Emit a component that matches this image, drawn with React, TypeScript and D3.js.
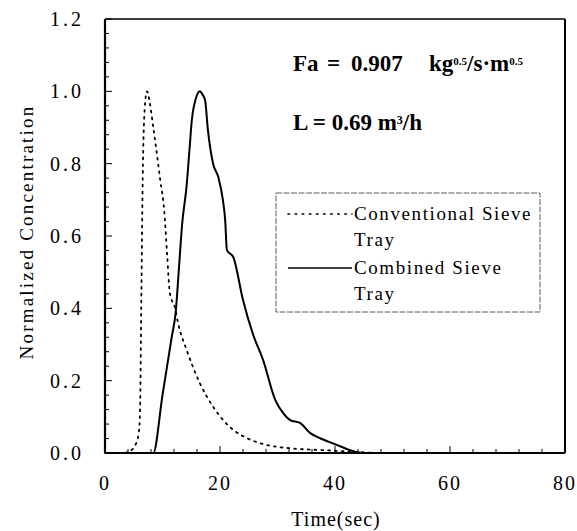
import React from "react";
import * as d3 from "d3";

const convTime = [0, 3, 4.3, 5.5, 5.9, 6.1, 6.3, 6.6, 6.9, 7.3, 7.8, 8.4, 9.0, 9.6, 10.3, 10.8, 11.3, 12.2, 12.7, 14.2, 16.5, 18.8, 22.3, 24.7, 28.2, 32.2, 37.9, 43.6, 47];
const convValue = [0, 0, 0.005, 0.03, 0.06, 0.12, 0.4, 0.8, 0.95, 1.0, 0.967, 0.9, 0.83, 0.755, 0.67, 0.55, 0.44, 0.4, 0.36, 0.285, 0.193, 0.128, 0.064, 0.041, 0.022, 0.013, 0.008, 0.003, 0];

const combTime = [0, 8.4, 10, 11.6, 12.3, 12.9, 13.4, 14.2, 14.7, 15.1, 15.8, 16.5, 17.0, 17.4, 17.9, 18.8, 19.7, 20.5, 20.9, 21.2, 22.3, 24.0, 25.7, 27.5, 29.6, 31.0, 32.2, 33.9, 35.7, 37.5, 39.1, 41, 42.6, 44.9, 80];
const combValue = [0, 0, 0.16, 0.32, 0.39, 0.52, 0.63, 0.74, 0.84, 0.92, 0.98, 1.0, 0.99, 0.976, 0.893, 0.8, 0.763, 0.7, 0.644, 0.561, 0.542, 0.423, 0.33, 0.257, 0.147, 0.11, 0.091, 0.083, 0.055, 0.04, 0.03, 0.018, 0.008, 0, 0];

const xTicks = [0, 20, 40, 60, 80];
const yTicks = [0, 0.2, 0.4, 0.6, 0.8, 1.0, 1.2];
const legendLabels = [["Conventional Sieve", "Tray"], ["Combined Sieve", "Tray"]];

export default function App() {
  const W = 577, H = 531;
  const left = 105, right = 565, top = 19, bottom = 453;
  const x = d3.scaleLinear().domain([0, 80]).range([left, right]);
  const y = d3.scaleLinear().domain([0, 1.2]).range([bottom, top]);
  const line = d3.line<[number, number]>().x(d => x(d[0])).y(d => y(d[1])).curve(d3.curveMonotoneX);
  const conv = line(convTime.map((t, i) => [t, convValue[i]] as [number, number])) || "";
  const comb = line(combTime.map((t, i) => [t, combValue[i]] as [number, number])) || "";
  const xMinor = d3.range(0, 80.01, 4);
  const yMinor = d3.range(0, 1.2001, 0.04);
  const axisFont = "'Liberation Serif', 'DejaVu Serif', serif";
  const boldFont = "'Liberation Serif', 'Times New Roman', serif";

  return (
    <svg width={W} height={H} style={{ position: "absolute", left: 0, top: 0, background: "#fff" }}>
      <rect x={0} y={0} width={W} height={H} fill="#fff" />
      {xMinor.map((t, i) => (
        <line key={"xm" + i} x1={x(t)} x2={x(t)} y1={bottom} y2={bottom - (t % 20 === 0 ? 7 : 4)} stroke="#000" strokeWidth={1} />
      ))}
      {yMinor.map((v, i) => (
        <line key={"ym" + i} x1={left} x2={left + (Math.abs(v * 5 - Math.round(v * 5)) < 1e-6 ? 7 : 4)} y1={y(v)} y2={y(v)} stroke="#000" strokeWidth={1} />
      ))}
      <line x1={left} x2={right} y1={top} y2={top} stroke="#000" strokeWidth={1.5} />
      <line x1={right} x2={right} y1={top} y2={bottom} stroke="#000" strokeWidth={2} />
      <line x1={left} x2={left} y1={top} y2={bottom} stroke="#000" strokeWidth={2.2} />
      <line x1={left} x2={right} y1={bottom} y2={bottom} stroke="#000" strokeWidth={2.2} />

      <path d={conv} fill="none" stroke="#000" strokeWidth={1.8} strokeDasharray="1.8 5" strokeLinecap="round" />
      <path d={comb} fill="none" stroke="#000" strokeWidth={2} strokeLinejoin="round" />

      {xTicks.map(t => (
        <text key={"xt" + t} x={x(t)} y={490} textAnchor="middle" fontFamily={axisFont} fontSize={20} letterSpacing={2}>{t}</text>
      ))}
      {yTicks.map(v => (
        <text key={"yt" + v} x={84} y={y(v) + 7} textAnchor="end" fontFamily={axisFont} fontSize={20} letterSpacing={3}>{v.toFixed(1)}</text>
      ))}

      <text x={336} y={526} textAnchor="middle" fontFamily={axisFont} fontSize={20} letterSpacing={1}>Time(sec)</text>
      <text transform={`translate(33, 232) rotate(-90)`} textAnchor="middle" fontFamily={axisFont} fontSize={19} letterSpacing={2.2}>Normalized Concentration</text>

      <text x={293} y={71} fontFamily={boldFont} fontWeight="bold" fontSize={23}>
        <tspan>Fa</tspan>
        <tspan x={327}>=</tspan>
        <tspan x={351}>0.907</tspan>
        <tspan x={429}>kg</tspan>
        <tspan fontSize={11} dy={-6}>0.5</tspan>
        <tspan dy={6}>/s·m</tspan>
        <tspan fontSize={11} dy={-6}>0.5</tspan>
      </text>
      <text x={293} y={130} fontFamily={boldFont} fontWeight="bold" fontSize={23}>
        <tspan>L = 0.69 m</tspan>
        <tspan fontSize={12} dy={-6}>3</tspan>
        <tspan dy={6}>/h</tspan>
      </text>

      <rect x={276} y={193} width={264} height={119} fill="#fff" stroke="#333" strokeWidth={0.8} strokeDasharray="6 1.5" />
      <line x1={288} x2={352} y1={214} y2={214} stroke="#000" strokeWidth={1.6} strokeDasharray="1.6 5.5" strokeLinecap="round" />
      <line x1={288} x2={352} y1={268} y2={268} stroke="#000" strokeWidth={1.6} />
      {legendLabels.map((lab, i) => (
        <g key={"lg" + i}>
          <text x={354} y={220 + i * 54} fontFamily={axisFont} fontSize={19} letterSpacing={1.6}>{lab[0]}</text>
          <text x={354} y={246 + i * 54} fontFamily={axisFont} fontSize={19} letterSpacing={1.6}>{lab[1]}</text>
        </g>
      ))}
    </svg>
  );
}
